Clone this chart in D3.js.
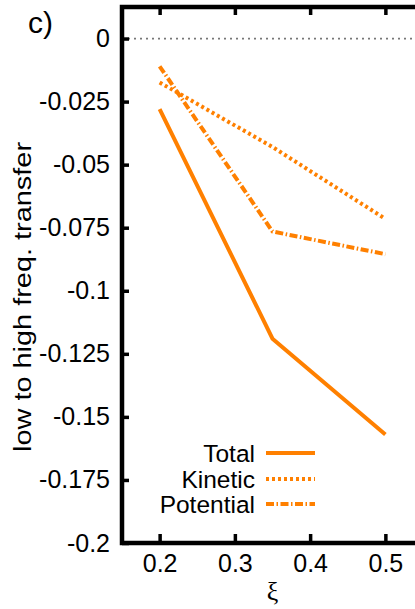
<!DOCTYPE html>
<html>
<head>
<meta charset="utf-8">
<script src="https://cdn.jsdelivr.net/npm/d3@7"></script>
<style>
  body { margin: 0; background: #fff; }
  text { font-family: "Liberation Sans", Arial, sans-serif; fill: #000; }
</style>
</head>
<body>
<div id="chart"></div>
<script>
// values
const xiValues = [0.2, 0.35, 0.5];
const totalValues = [-0.028, -0.119, -0.157];
const kineticValues = [-0.0174, -0.043, -0.0715];
const potentialValues = [-0.011, -0.0765, -0.0855];
const seriesNames = ["Total", "Kinetic", "Potential"];
const xTicks = [0.2, 0.3, 0.4, 0.5];
const yTicks = [0, -0.025, -0.05, -0.075, -0.1, -0.125, -0.15, -0.175, -0.2];
const yTickLabels = ["0", "-0.025", "-0.05", "-0.075", "-0.1", "-0.125", "-0.15", "-0.175", "-0.2"];

function drawChart() {
    const W = 415, H = 609;
    const left = 122, top = 7, right = 423, bottom = 543;
    const orange = "#ff8000";

    const svg = d3.select("#chart").append("svg")
        .attr("width", W)
        .attr("height", H);

    svg.append("rect").attr("width", W).attr("height", H).attr("fill", "#fff");

    const x = d3.scaleLinear().domain([0.15, 0.55]).range([left, right]);
    const y = d3.scaleLinear().domain([-0.2, 0.0125]).range([bottom, top]);

    // zero line
    svg.append("line")
        .attr("x1", left).attr("x2", right)
        .attr("y1", y(0)).attr("y2", y(0))
        .attr("stroke", "#777")
        .attr("stroke-width", 1.8)
        .attr("stroke-dasharray", "2,4");

    // series
    const styles = {
        Total: null,
        Kinetic: "3,3",
        Potential: "8,2.5,1.5,2.5"
    };
    const seriesData = {
        Total: totalValues,
        Kinetic: kineticValues,
        Potential: potentialValues
    };
    const line = d3.line().x(d => x(d[0])).y(d => y(d[1]));

    seriesNames.forEach(name => {
        const pts = xiValues.map((v, i) => [v, seriesData[name][i]]);
        svg.append("path")
            .datum(pts)
            .attr("d", line)
            .attr("fill", "none")
            .attr("stroke", orange)
            .attr("stroke-width", 4)
            .attr("stroke-dasharray", styles[name]);
    });

    // axes
    const yAxis = svg.append("g")
        .attr("transform", `translate(${left},0)`)
        .call(d3.axisLeft(y).tickValues(yTicks)
            .tickFormat((d, i) => yTickLabels[i])
            .tickSize(-7).tickPadding(12));
    const xAxis = svg.append("g")
        .attr("transform", `translate(0,${bottom})`)
        .call(d3.axisBottom(x).tickValues(xTicks)
            .tickFormat(d3.format(".1f"))
            .tickSize(-9).tickPadding(11));
    const xTop = svg.append("g")
        .attr("transform", `translate(0,${top})`)
        .call(d3.axisTop(x).tickValues(xTicks)
            .tickFormat("")
            .tickSize(-8));

    [yAxis, xAxis, xTop].forEach(g => {
        g.select(".domain").remove();
        g.selectAll(".tick line").attr("stroke", "#000").attr("stroke-width", 3.5);
        g.selectAll(".tick text")
            .style("font-family", "'Liberation Sans', Arial, sans-serif")
            .style("font-size", "25px");
    });
    xAxis.selectAll(".tick text").attr("dy", "0.72em");

    // frame
    svg.append("rect")
        .attr("x", left).attr("y", top)
        .attr("width", right - left).attr("height", bottom - top)
        .attr("fill", "none")
        .attr("stroke", "#000")
        .attr("stroke-width", 4.5);

    // legend
    const legendY = [453, 479, 504];
    seriesNames.forEach((name, i) => {
        svg.append("text")
            .attr("x", 255).attr("y", legendY[i])
            .attr("text-anchor", "end")
            .attr("dy", "0.36em")
            .style("font-size", "24.5px")
            .text(name);
        svg.append("line")
            .attr("x1", 266).attr("x2", 315)
            .attr("y1", legendY[i]).attr("y2", legendY[i])
            .attr("stroke", orange)
            .attr("stroke-width", 4)
            .attr("stroke-dasharray", styles[name]);
    });

    // labels
    svg.append("text")
        .attr("x", 28).attr("y", 33)
        .style("font-size", "30px")
        .text("c)");

    svg.append("text")
        .attr("transform", "translate(31,297) rotate(-90)")
        .attr("text-anchor", "middle")
        .attr("textLength", 310)
        .attr("lengthAdjust", "spacingAndGlyphs")
        .style("font-size", "23px")
        .text("low to high freq. transfer");

    svg.append("text")
        .attr("x", x(0.35)).attr("y", 600)
        .attr("text-anchor", "middle")
        .style("font-family", "'Liberation Serif', 'DejaVu Serif', serif")
        .style("font-size", "26px")
        .text("ξ");
}

drawChart();
</script>
</body>
</html>
